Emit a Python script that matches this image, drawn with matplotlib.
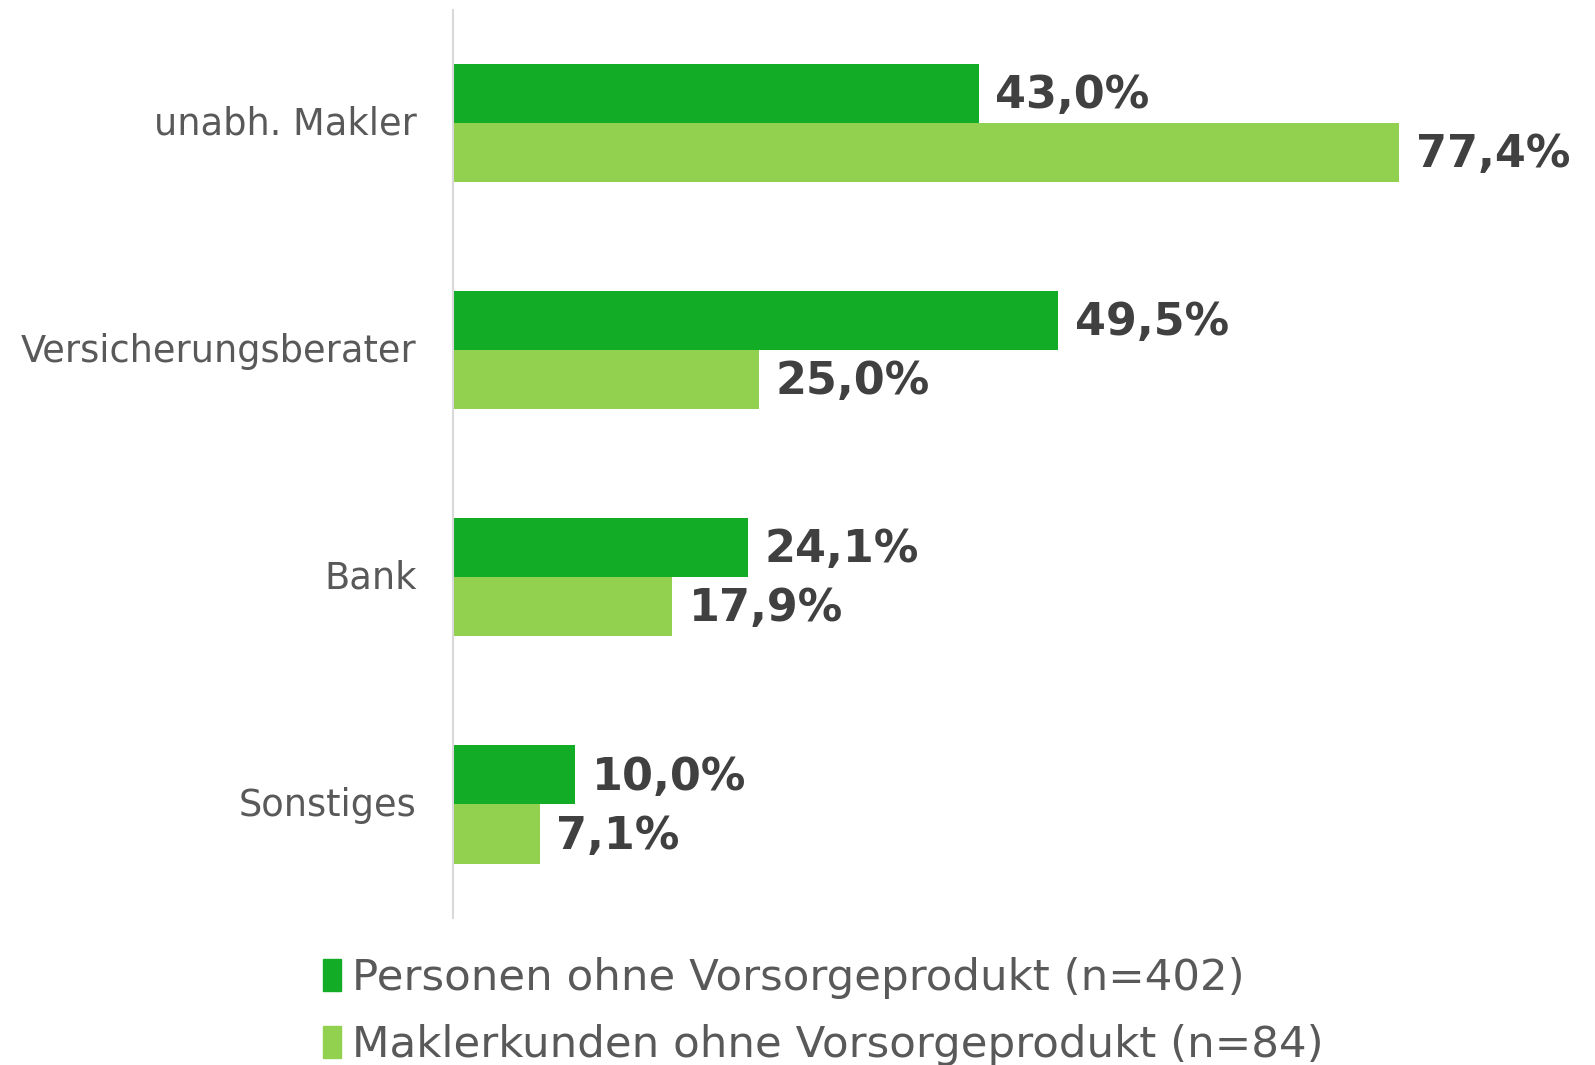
import matplotlib
matplotlib.use("Agg")
import matplotlib.pyplot as plt
import matplotlib.transforms as mtransforms
import numpy as np
from matplotlib.patches import Patch

# Daten
categories = ['unabh. Makler', 'Versicherungsberater', 'Bank', 'Sonstiges']
ohne_vorsorge = [43.0, 49.5, 24.1, 10.0]
maklerkunden = [77.4, 25.0, 17.9, 7.1]
series_labels = ['Personen ohne Vorsorgeprodukt (n=402)',
                 'Maklerkunden ohne Vorsorgeprodukt (n=84)']

dark_green = '#12AC26'
light_green = '#92D050'

plt.rcParams['font.family'] = ['DejaVu Sans']

fig = plt.figure(figsize=(15.95, 10.65), dpi=100)
ax = fig.add_axes([0.284, 0.138, 0.69, 0.853])

y = np.arange(len(categories))
h = 0.26
ax.barh(y - h / 2, ohne_vorsorge, height=h, color=dark_green, label=series_labels[0])
ax.barh(y + h / 2, maklerkunden, height=h, color=light_green, label=series_labels[1])

def fmt(v):
    return f'{v:.1f}%'.replace('.', ',')

for i in range(len(categories)):
    ax.annotate(fmt(ohne_vorsorge[i]), (ohne_vorsorge[i], y[i] - h / 2),
                xytext=(12, -1.5), textcoords='offset points', va='center', ha='left',
                fontsize=32, fontweight='bold', color='#404040')
    ax.annotate(fmt(maklerkunden[i]), (maklerkunden[i], y[i] + h / 2),
                xytext=(12, -1.5), textcoords='offset points', va='center', ha='left',
                fontsize=32, fontweight='bold', color='#404040')

ax.set_xlim(0, 90)
ax.set_ylim(3.5, -0.5)
ax.set_yticks(y)
ax.set_yticklabels(categories, fontsize=26.5, color='#595959', va='center_baseline')
ax.tick_params(axis='y', length=0, pad=26)
# Kategorienbeschriftung etwas nach oben schieben
shift = mtransforms.ScaledTranslation(0, 0.03, fig.dpi_scale_trans)
for lbl in ax.get_yticklabels():
    lbl.set_transform(lbl.get_transform() + shift)
ax.set_xticks([])
for side in ['top', 'right', 'bottom']:
    ax.spines[side].set_visible(False)
ax.spines['left'].set_color('#D9D9D9')
ax.spines['left'].set_linewidth(1.5)

handles = [Patch(color=dark_green), Patch(color=light_green)]
fig.legend(handles, series_labels, loc='upper left', bbox_to_anchor=(0.189, 0.122),
           frameon=False, fontsize=31.3, labelcolor='#595959',
           handlelength=0.42, handleheight=0.75, handletextpad=0.25,
           labelspacing=0.58, borderpad=0)

fig.savefig('out.png', dpi=100)
